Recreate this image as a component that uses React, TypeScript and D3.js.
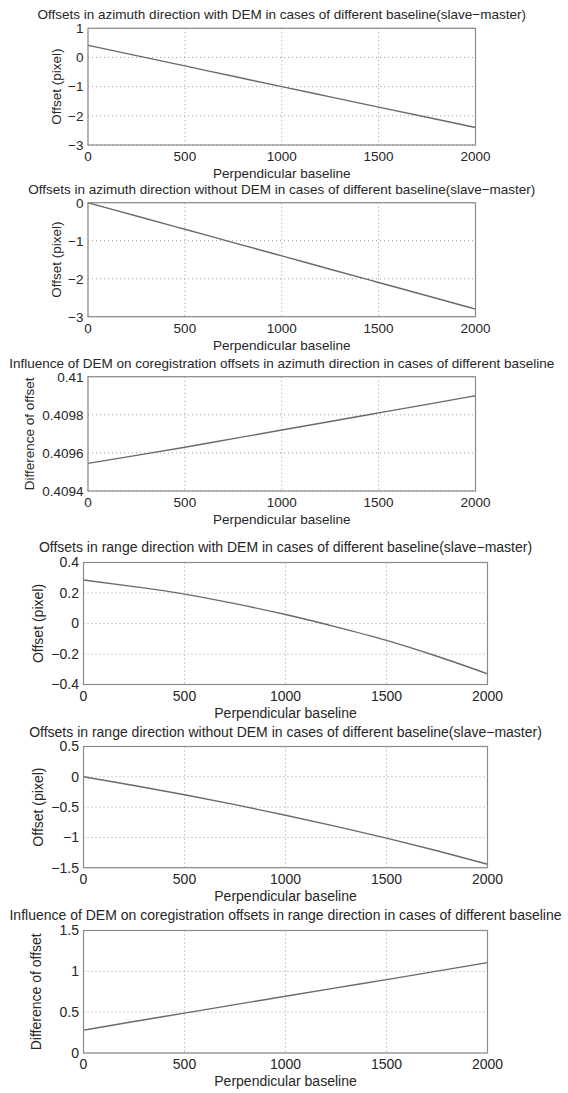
import { scaleLinear, line, curveMonotoneX } from "d3";

// perpendicular baseline samples (x axis, shared by all six plots)
const baseline = [0, 250, 500, 750, 1000, 1250, 1500, 1750, 2000];
const xTicks = [0, 500, 1000, 1500, 2000];

// azimuth offsets
const azWithDem = [0.42, 0.065, -0.29, -0.645, -1.0, -1.35, -1.7, -2.05, -2.4];
const azWithoutDem = [0, -0.35, -0.7, -1.05, -1.4, -1.75, -2.1, -2.45, -2.8];
const azDemDiff = [
  0.409545, 0.409587, 0.40963, 0.409675, 0.40972, 0.409765, 0.40981, 0.409855,
  0.4099,
];

// range offsets
const rgWithDem = [0.285, 0.242, 0.193, 0.13, 0.059, -0.022, -0.111, -0.215, -0.33];
const rgWithoutDem = [0, -0.143, -0.296, -0.46, -0.634, -0.818, -1.013, -1.221, -1.443];
const rgDemDiff = [0.28, 0.385, 0.488, 0.592, 0.695, 0.797, 0.898, 1.002, 1.106];

const yTicksAzWith = [-3, -2, -1, 0, 1];
const yTicksAzWithout = [-3, -2, -1, 0];
const yTicksAzDiff = [0.4094, 0.4096, 0.4098, 0.41];
const yTicksRgWith = [-0.4, -0.2, 0, 0.2, 0.4];
const yTicksRgWithout = [-1.5, -1, -0.5, 0, 0.5];
const yTicksRgDiff = [0, 0.5, 1, 1.5];

const titles = [
  "Offsets in azimuth direction with DEM in cases of different baseline(slave\u2212master)",
  "Offsets in azimuth direction without DEM in cases of different baseline(slave\u2212master)",
  "Influence of DEM on coregistration offsets in azimuth direction in cases of different baseline",
  "Offsets in range direction with DEM in cases of different baseline(slave\u2212master)",
  "Offsets in range direction without DEM in cases of different baseline(slave\u2212master)",
  "Influence of DEM on coregistration offsets in range direction in cases of different baseline",
];

const FONT = "'Liberation Sans', Arial, Helvetica, sans-serif";
const INK = "#262626";
const BOX = "#8a8a8a";
const GRID = "#9c9c9c";
const CURVE = "#6a6a6a";

const fmt = (v) => String(+v.toPrecision(6)).replace("-", "\u2212");

function Panel({ values, yTicks, title, ylabel, box, titleY, ylabelX, fs }) {
  const { left, right, top, bottom } = box;
  const x = scaleLinear().domain([0, 2000]).range([left, right]);
  const y = scaleLinear()
    .domain([yTicks[0], yTicks[yTicks.length - 1]])
    .range([bottom, top]);
  const path = line()
    .curve(curveMonotoneX)
    .x((d) => x(d[0]))
    .y((d) => y(d[1]))(baseline.map((b, i) => [b, values[i]]));

  return (
    <g fontFamily={FONT} fill={INK} fontSize={fs}>
      <text x={(left + right) / 2} y={titleY} textAnchor="middle">
        {title}
      </text>

      {/* dotted grid */}
      {xTicks.map((t) => (
        <line
          key={`gx${t}`}
          x1={x(t)}
          x2={x(t)}
          y1={top}
          y2={bottom}
          stroke={GRID}
          strokeWidth={1}
          strokeDasharray="1,3"
        />
      ))}
      {yTicks.map((t) => (
        <line
          key={`gy${t}`}
          x1={left}
          x2={right}
          y1={y(t)}
          y2={y(t)}
          stroke={GRID}
          strokeWidth={1}
          strokeDasharray="1,3"
        />
      ))}

      <path d={path} fill="none" stroke={CURVE} strokeWidth={1.4} />

      <rect
        x={left}
        y={top}
        width={right - left}
        height={bottom - top}
        fill="none"
        stroke={BOX}
        strokeWidth={1.2}
      />

      {xTicks.map((t) => (
        <text key={`tx${t}`} x={x(t)} y={bottom + 16.3} textAnchor="middle">
          {t}
        </text>
      ))}
      {yTicks.map((t) => (
        <text key={`ty${t}`} x={left - 4.5} y={y(t) + 4.8} textAnchor="end">
          {fmt(t)}
        </text>
      ))}

      <text x={(left + right) / 2} y={bottom + 33.3} textAnchor="middle">
        Perpendicular baseline
      </text>
      <text
        transform={`translate(${ylabelX}, ${(top + bottom) / 2}) rotate(-90)`}
        textAnchor="middle"
        dy="0.35em"
      >
        {ylabel}
      </text>
    </g>
  );
}

export default function App() {
  const upper = { left: 88, right: 475.5 };
  const lower = { left: 83.5, right: 487.5 };
  const panels = [
    { values: azWithDem, yTicks: yTicksAzWith, ylabel: "Offset (pixel)", box: { ...upper, top: 28.3, bottom: 145 }, titleY: 19.3, ylabelX: 56, fs: 13.5 },
    { values: azWithoutDem, yTicks: yTicksAzWithout, ylabel: "Offset (pixel)", box: { ...upper, top: 202.7, bottom: 316.7 }, titleY: 194.2, ylabelX: 56, fs: 13.5 },
    { values: azDemDiff, yTicks: yTicksAzDiff, ylabel: "Difference of offset", box: { ...upper, top: 376.7, bottom: 491 }, titleY: 368.4, ylabelX: 29, fs: 13.5 },
    { values: rgWithDem, yTicks: yTicksRgWith, ylabel: "Offset (pixel)", box: { ...lower, top: 562.5, bottom: 684.5 }, titleY: 551.5, ylabelX: 38, fs: 14 },
    { values: rgWithoutDem, yTicks: yTicksRgWithout, ylabel: "Offset (pixel)", box: { ...lower, top: 746.5, bottom: 867.7 }, titleY: 736.8, ylabelX: 38, fs: 14 },
    { values: rgDemDiff, yTicks: yTicksRgDiff, ylabel: "Difference of offset", box: { ...lower, top: 930.5, bottom: 1053 }, titleY: 920.2, ylabelX: 36, fs: 14 },
  ];

  return (
    <svg
      width={568}
      height={1093}
      style={{ position: "absolute", left: 0, top: 0, background: "#fff" }}
    >
      <rect width={568} height={1093} fill="#fff" />
      {panels.map((p, i) => (
        <Panel key={i} title={titles[i]} {...p} />
      ))}
    </svg>
  );
}
